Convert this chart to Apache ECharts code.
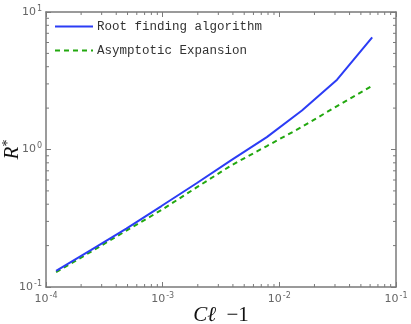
<!DOCTYPE html>
<html>
<head>
<meta charset="utf-8">
<script src="https://cdn.jsdelivr.net/npm/echarts@6/dist/echarts.min.js"></script>
<style>
html, body { margin: 0; padding: 0; background: #fff; }
#chart { width: 411px; height: 324px; }
</style>
</head>
<body>
<div id="chart"></div>
<script>
// x = Cℓ - 1 (halving steps), y = R*
const xValues = [1.220703125e-4, 2.44140625e-4, 4.8828125e-4, 9.765625e-4, 0.001953125,
    0.00390625, 0.0078125, 0.015625, 0.03125, 0.0625];
const rootFinding = [0.131, 0.186, 0.266, 0.388, 0.568, 0.84, 1.23, 1.92, 3.22, 6.54];
const asymptotic = [0.128, 0.181, 0.257, 0.363, 0.53, 0.77, 1.06, 1.46, 2.07, 2.91];
const seriesNames = ['Root finding algorithm', 'Asymptotic Expansion'];

const xMin = 1e-4, xMax = 1e-1;
const yMin = 1e-1, yMax = 10;

// minor tick positions 2..9 per decade
const minorSteps = [2, 3, 4, 5, 6, 7, 8, 9];
const decadesOf = (lo, hi) => {
    const out = [];
    for (let d = lo; d < hi * 0.999; d *= 10) minorSteps.forEach(k => out.push(k * d));
    return out;
};
const minorX = decadesOf(xMin, xMax);
const minorY = decadesOf(yMin, yMax);

const frameColor = '#7a7a7a';
const labelFmt = v => {
    const e = Math.round(Math.log10(v));
    return '10{s|' + e + '}';
};
const labelRich = {
    s: { fontSize: 8, color: '#666', verticalAlign: 'top', padding: [0, 0, 7, 1], fontFamily: 'DejaVu Sans' },
};

const baseAxis = (extra) => Object.assign({
    type: 'log',
    logBase: 10,
    axisLine: { show: true, lineStyle: { color: frameColor, width: 1.5 } },
    axisTick: { show: true, inside: true, length: 5, lineStyle: { color: frameColor, width: 1 } },
    splitLine: { show: false },
    minorTick: { show: false },
}, extra);

const chart = echarts.init(document.getElementById('chart'));

const minorTickSeries = (values, isX) => ({
    type: 'custom',
    xAxisIndex: 0,
    yAxisIndex: 0,
    silent: true,
    clip: false,
    z: 1,
    data: values.map(v => [v]),
    renderItem: (params, api) => {
        const v = api.value(0);
        const style = { stroke: frameColor, lineWidth: 1 };
        const len = 3;
        if (isX) {
            const a = api.coord([v, yMin]);
            const b = api.coord([v, yMax]);
            return {
                type: 'group',
                children: [
                    { type: 'line', shape: { x1: a[0], y1: a[1], x2: a[0], y2: a[1] - len }, style },
                    { type: 'line', shape: { x1: b[0], y1: b[1], x2: b[0], y2: b[1] + len }, style },
                ],
            };
        }
        const a = api.coord([xMin, v]);
        const b = api.coord([xMax, v]);
        return {
            type: 'group',
            children: [
                { type: 'line', shape: { x1: a[0], y1: a[1], x2: a[0] + len, y2: a[1] }, style },
                { type: 'line', shape: { x1: b[0], y1: b[1], x2: b[0] - len, y2: b[1] }, style },
            ],
        };
    },
});

chart.setOption({
    animation: false,
    backgroundColor: '#fff',
    grid: { left: 46, right: 15, top: 12, bottom: 37, containLabel: false, outerBoundsMode: 'none' },
    legend: {
        data: seriesNames.map(name => ({ name })),
        orient: 'vertical',
        left: 49,
        top: 15,
        itemWidth: 38,
        itemHeight: 10,
        itemGap: 11,
        itemStyle: { opacity: 0 },
        textStyle: { fontFamily: 'Liberation Mono', fontSize: 12.5, color: '#333', padding: [0, 0, 0, -1] },
    },
    xAxis: [
        baseAxis({
            position: 'bottom',
            min: xMin,
            max: xMax,
            axisLabel: { formatter: labelFmt, rich: labelRich, color: '#666', fontSize: 11, fontFamily: 'DejaVu Sans', margin: 5 },
            name: '{i|Cℓ}{n|\u2002−1}',
            nameLocation: 'middle',
            nameGap: 18,
            nameMoveOverlap: false,
            nameTextStyle: {
                rich: {
                    i: { fontFamily: 'Liberation Serif', fontStyle: 'italic', fontSize: 21, color: '#111' },
                    n: { fontFamily: 'Liberation Serif', fontSize: 21, color: '#111' },
                },
            },
        }),
        baseAxis({ position: 'top', min: xMin, max: xMax, axisLabel: { show: false } }),
    ],
    yAxis: [
        baseAxis({
            position: 'left',
            min: yMin,
            max: yMax,
            axisLabel: { formatter: labelFmt, rich: labelRich, color: '#666', fontSize: 11, fontFamily: 'DejaVu Sans', margin: 4 },
            name: '{i|R}{s|*}',
            nameLocation: 'middle',
            nameGap: 23,
            nameMoveOverlap: false,
            nameRotate: 90,
            nameTextStyle: {
                rich: {
                    i: { fontFamily: 'Liberation Serif', fontStyle: 'italic', fontSize: 21, color: '#111' },
                    s: { fontFamily: 'Liberation Serif', fontSize: 14, color: '#111', verticalAlign: 'top', padding: [0, 0, 8, 0] },
                },
            },
        }),
        baseAxis({ position: 'right', min: yMin, max: yMax, axisLabel: { show: false } }),
    ],
    series: [
        {
            name: seriesNames[0],
            type: 'line',
            data: xValues.map((x, i) => [x, rootFinding[i]]),
            symbol: 'none',
            lineStyle: { color: '#2b3cf5', width: 2 },
            itemStyle: { color: '#2b3cf5' },
            z: 3,
        },
        {
            name: seriesNames[1],
            type: 'line',
            data: xValues.map((x, i) => [x, asymptotic[i]]),
            symbol: 'none',
            lineStyle: { color: '#22a80f', width: 2, type: [5, 4] },
            itemStyle: { color: '#22a80f' },
            z: 2,
        },
        minorTickSeries(minorX, true),
        minorTickSeries(minorY, false),
    ],
});
</script>
</body>
</html>
